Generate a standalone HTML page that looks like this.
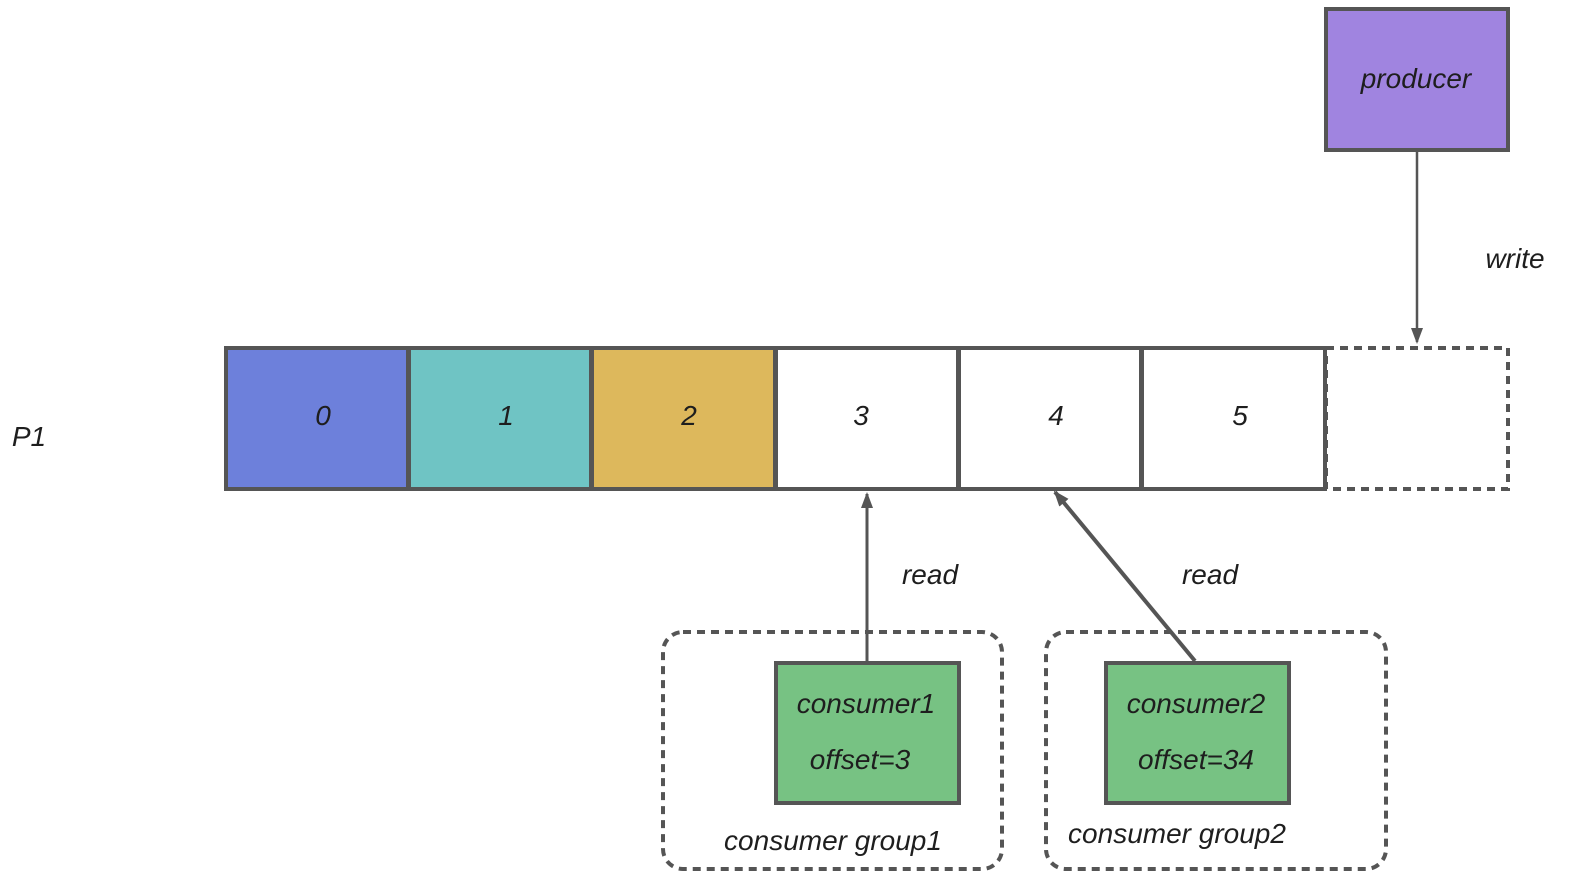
<!DOCTYPE html>
<html><head><meta charset="utf-8"><style>
html,body{margin:0;padding:0;background:#fff;width:1577px;height:885px;overflow:hidden}
text{font-family:"Liberation Sans",sans-serif;font-style:italic;fill:#1e1e1e}
</style></head><body>
<svg width="1577" height="885" viewBox="0 0 1577 885" xmlns="http://www.w3.org/2000/svg">
<defs>
<marker id="ah" markerWidth="16" markerHeight="12" refX="14" refY="6" orient="auto" markerUnits="userSpaceOnUse">
<path d="M0,0 L16,6 L0,12 Z" fill="#555"/>
</marker>
</defs>
<g stroke="#555" stroke-width="4">
<rect x="226" y="348" width="182" height="141" fill="#6d80db"/>
<rect x="409" y="348" width="182" height="141" fill="#6fc4c4"/>
<rect x="592" y="348" width="183" height="141" fill="#ddb85c"/>
<rect x="776" y="348" width="182" height="141" fill="#fff"/>
<rect x="959" y="348" width="182" height="141" fill="#fff"/>
<rect x="1142" y="348" width="183" height="141" fill="#fff"/>
<rect x="1326" y="348" width="182" height="141" fill="none" stroke-dasharray="8 6"/>
<rect x="1326" y="9" width="182" height="141" fill="#a084e0"/>
<rect x="776" y="663" width="183" height="140" fill="#77c283"/>
<rect x="1106" y="663" width="183" height="140" fill="#77c283"/>
<rect x="663" y="632" width="339" height="237" rx="20" fill="none" stroke-dasharray="8 6"/>
<rect x="1046" y="632" width="340" height="237" rx="20" fill="none" stroke-dasharray="8 6"/>
<line x1="1417" y1="152" x2="1417" y2="342" stroke-width="2.5" marker-end="url(#ah)"/>
<line x1="867" y1="661" x2="867" y2="494" stroke-width="3" marker-end="url(#ah)"/>
<line x1="1195" y1="661" x2="1055" y2="492" stroke-width="4" marker-end="url(#ah)"/>
</g>
<g font-size="28" text-anchor="middle">
<text x="323" y="425">0</text>
<text x="506" y="425">1</text>
<text x="689" y="425">2</text>
<text x="861" y="425">3</text>
<text x="1056" y="425">4</text>
<text x="1240" y="425">5</text>
<text x="1416" y="88">producer</text>
<text x="866" y="713">consumer1</text>
<text x="860" y="769">offset=3</text>
<text x="1196" y="713">consumer2</text>
<text x="1196" y="769">offset=34</text>
<text x="833" y="850">consumer group1</text>
<text x="1177" y="843">consumer group2</text>
<text x="930" y="584">read</text>
<text x="1210" y="584">read</text>
<text x="1515" y="268">write</text>
<text x="29" y="446">P1</text>
</g>
</svg>
</body></html>
